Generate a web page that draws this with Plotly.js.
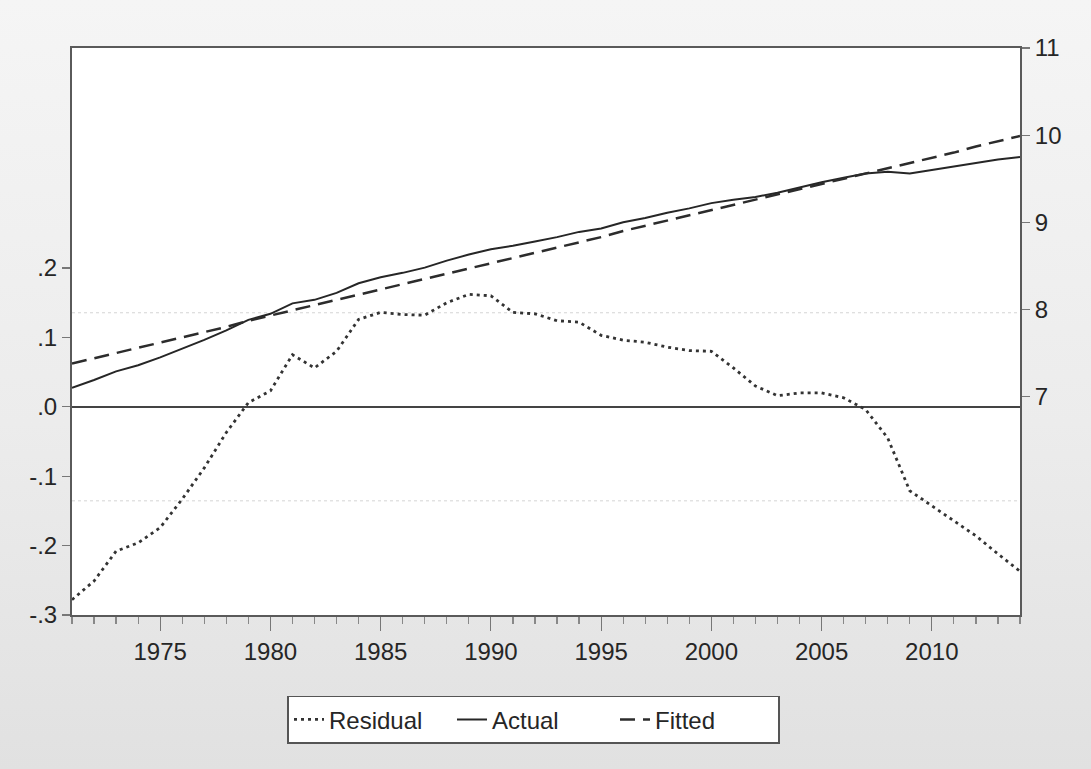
<!DOCTYPE html>
<html>
<head>
<meta charset="utf-8">
<script src="https://cdn.plot.ly/plotly-3.0.1.min.js"></script>
<style>
  html, body { margin: 0; padding: 0; }
  body { width: 1091px; height: 769px; background: linear-gradient(180deg, #f5f5f5 0%, #ececec 55%, #e1e1e1 100%); }
  #chart { width: 1091px; height: 769px; }
</style>
</head>
<body>
<div id="chart"></div>
<script>
// ---- data ----
const years = [1971,1972,1973,1974,1975,1976,1977,1978,1979,1980,
               1981,1982,1983,1984,1985,1986,1987,1988,1989,1990,
               1991,1992,1993,1994,1995,1996,1997,1998,1999,2000,
               2001,2002,2003,2004,2005,2006,2007,2008,2009,2010,
               2011,2012,2013,2014];

const residual = [-0.278,-0.251,-0.208,-0.196,-0.174,-0.133,-0.088,-0.037,0.006,0.023,
                  0.075,0.056,0.080,0.126,0.136,0.133,0.132,0.150,0.162,0.160,
                  0.136,0.134,0.124,0.122,0.103,0.096,0.093,0.086,0.081,0.080,
                  0.056,0.030,0.016,0.020,0.020,0.013,-0.004,-0.045,-0.121,-0.143,
                  -0.165,-0.186,-0.212,-0.237];

const actual = [7.10,7.19,7.29,7.36,7.45,7.55,7.65,7.76,7.88,7.95,
                8.07,8.11,8.19,8.30,8.37,8.42,8.48,8.56,8.63,8.69,
                8.73,8.78,8.83,8.89,8.93,9.00,9.05,9.11,9.16,9.22,
                9.26,9.29,9.34,9.40,9.46,9.51,9.56,9.58,9.56,9.60,
                9.64,9.68,9.72,9.75];

const fitted = [7.38,7.44,7.50,7.56,7.62,7.68,7.74,7.80,7.87,7.93,
                7.99,8.05,8.11,8.17,8.23,8.29,8.35,8.41,8.47,8.53,
                8.59,8.65,8.71,8.77,8.83,8.90,8.96,9.02,9.08,9.14,
                9.20,9.26,9.32,9.38,9.44,9.50,9.56,9.62,9.68,9.74,
                9.80,9.87,9.93,9.99];

const xTickVals = [1975,1980,1985,1990,1995,2000,2005,2010];
const leftTickVals = [-0.3,-0.2,-0.1,0.0,0.1,0.2];
const leftTickText = ['-.3','-.2','-.1','.0','.1','.2'];
const rightTickVals = [7,8,9,10,11];
const rightTickText = ['7','8','9','10','11'];
const seBands = [0.1355,-0.1355];

// ---- traces ----
const FONT = 'Liberation Sans, Arial, Helvetica, sans-serif';
const TXT = '#262626';
const traces = [
  { x: years, y: residual, name: 'Residual', type: 'scatter', mode: 'lines', yaxis: 'y',
    line: { color: '#333333', width: 2.8, dash: '3px,4px' } },
  { x: years, y: actual, name: 'Actual', type: 'scatter', mode: 'lines', yaxis: 'y2',
    line: { color: '#262626', width: 2 } },
  { x: years, y: fitted, name: 'Fitted', type: 'scatter', mode: 'lines', yaxis: 'y2',
    line: { color: '#2c2c2c', width: 2.5, dash: '15px,8px' } }
];

const shapes = seBands.map(v => ({
  type: 'line', xref: 'paper', x0: 0, x1: 1, yref: 'y', y0: v, y1: v,
  line: { color: '#d4d4d4', width: 1, dash: 'dot' }, layer: 'below'
}));

const layout = {
  width: 1091, height: 769,
  margin: { l: 72, r: 71, t: 48, b: 154, pad: 0 },
  paper_bgcolor: 'rgba(0,0,0,0)',
  plot_bgcolor: '#ffffff',
  font: { family: FONT, size: 24, color: TXT },
  showlegend: true,
  legend: {
    orientation: 'h', x: 0.227, xanchor: 'left', y: -0.142, yanchor: 'top',
    bgcolor: '#ffffff', bordercolor: '#555555', borderwidth: 1.8,
    font: { family: FONT, size: 24, color: TXT },
    entrywidth: 118, entrywidthmode: 'pixels', traceorder: 'normal'
  },
  xaxis: {
    range: [1971, 2014], tickmode: 'array', tickvals: xTickVals,
    ticks: 'outside', ticklen: 14, tickwidth: 1.2, tickcolor: '#777',
    minor: { tickmode: 'linear', tick0: 1971, dtick: 1, ticks: 'outside', ticklen: 7, tickwidth: 1.2, tickcolor: '#888', showgrid: false },
    showgrid: false, zeroline: false,
    showline: true, mirror: true, linecolor: '#5a5a5a', linewidth: 2,
    tickfont: { family: FONT, size: 24, color: TXT }
  },
  yaxis: {
    range: [-0.3, 0.517], tickmode: 'array', tickvals: leftTickVals, ticktext: leftTickText,
    ticks: 'outside', ticklen: 8, tickwidth: 1.2, tickcolor: '#777',
    showgrid: false, zeroline: true, zerolinecolor: '#444', zerolinewidth: 1.6,
    showline: true, mirror: true, linecolor: '#5a5a5a', linewidth: 2,
    tickfont: { family: FONT, size: 24, color: TXT }
  },
  yaxis2: {
    overlaying: 'y', side: 'right',
    range: [4.494, 11], tickmode: 'array', tickvals: rightTickVals, ticktext: rightTickText,
    ticks: 'outside', ticklen: 8, tickwidth: 1.2, tickcolor: '#777',
    showgrid: false, zeroline: false,
    showline: true, linecolor: '#5a5a5a', linewidth: 2,
    tickfont: { family: FONT, size: 24, color: TXT }
  },
  shapes: shapes
};

Plotly.newPlot('chart', traces, layout, { displayModeBar: false, staticPlot: true });
</script>
</body>
</html>
